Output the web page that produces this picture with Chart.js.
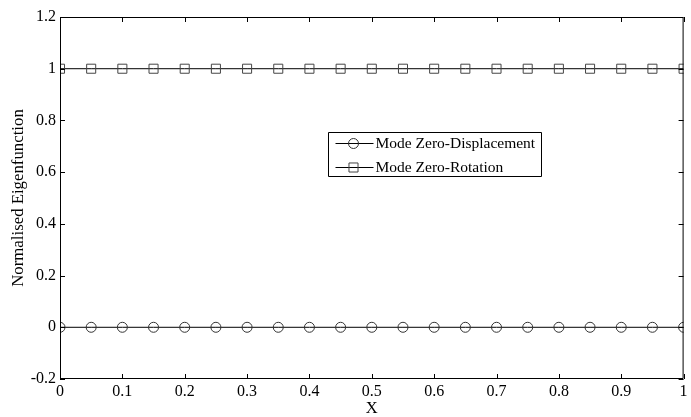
<!DOCTYPE html>
<html>
<head>
<meta charset="utf-8">
<script src="https://cdn.jsdelivr.net/npm/chart.js@4/dist/chart.umd.min.js"></script>
<style>
html,body{margin:0;padding:0;background:#fff;}
canvas{display:block;}
</style>
</head>
<body>
<canvas id="c" width="691" height="417"></canvas>
<script>
const xValues = [0,0.05,0.1,0.15,0.2,0.25,0.3,0.35,0.4,0.45,0.5,0.55,0.6,0.65,0.7,0.75,0.8,0.85,0.9,0.95,1];
const zeroDisplacement = [0,0,0,0,0,0,0,0,0,0,0,0,0,0,0,0,0,0,0,0,0];
const zeroRotation = [1,1,1,1,1,1,1,1,1,1,1,1,1,1,1,1,1,1,1,1,1];
const seriesLabels = ['Mode Zero-Displacement','Mode Zero-Rotation'];
const xTicks = [0,0.1,0.2,0.3,0.4,0.5,0.6,0.7,0.8,0.9,1];
const yTicks = [-0.2,0,0.2,0.4,0.6,0.8,1,1.2];
const xTitle = 'X';
const yTitle = 'Normalised Eigenfunction';

const FONT = "'Liberation Serif','Times New Roman',serif";

const framePlugin = {
  id: 'frame',
  afterDatasetsDraw(chart) {
    const {ctx, chartArea: a, scales: {x, y}} = chart;
    ctx.save();
    ctx.strokeStyle = '#000';
    ctx.lineWidth = 1;
    ctx.beginPath();
    ctx.rect(a.left + 0.5, a.top + 0.5, a.right - a.left - 1, a.bottom - a.top - 1);
    const L = 5;
    xTicks.forEach(v => {
      const px = Math.round(x.getPixelForValue(v)) + 0.5;
      ctx.moveTo(px, a.bottom); ctx.lineTo(px, a.bottom - L);
      ctx.moveTo(px, a.top); ctx.lineTo(px, a.top + L);
    });
    yTicks.forEach(v => {
      const py = Math.round(y.getPixelForValue(v)) + 0.5;
      ctx.moveTo(a.left, py); ctx.lineTo(a.left + L, py);
      ctx.moveTo(a.right, py); ctx.lineTo(a.right - L, py);
    });
    ctx.stroke();

    // legend
    const bx = 328.5, by = 132.5, bw = 213, bh = 44;
    ctx.fillStyle = '#fff';
    ctx.fillRect(bx, by, bw, bh);
    ctx.strokeStyle = '#000';
    ctx.beginPath();
    ctx.rect(bx, by, bw, bh);
    ctx.stroke();
    ctx.font = '15.5px ' + FONT;
    ctx.textBaseline = 'middle';
    ctx.textAlign = 'left';
    chart.data.datasets.forEach((ds, i) => {
      const cy = Math.round(by + 10 + i * 24) + 0.5;
      ctx.strokeStyle = '#000';
      ctx.lineWidth = 1;
      ctx.beginPath();
      ctx.moveTo(bx + 7, cy); ctx.lineTo(bx + 45, cy);
      ctx.stroke();
      ctx.strokeStyle = ds.pointBorderColor;
      ctx.fillStyle = 'rgba(0,0,0,0)';
      Chart.helpers.drawPoint(ctx, {pointStyle: ds.pointStyle, radius: ds.pointRadius, rotation: 0, borderWidth: 1}, bx + 25, cy);
      ctx.fillStyle = '#000';
      ctx.fillText(ds.label, bx + 47, cy);
    });
    ctx.restore();
  }
};

new Chart(document.getElementById('c'), {
  type: 'line',
  data: {
    datasets: [
      {
        label: seriesLabels[0],
        data: xValues.map((v, i) => ({x: v, y: zeroDisplacement[i]})),
        borderColor: '#000', borderWidth: 1,
        pointStyle: 'circle', pointRadius: 5,
        pointBorderColor: '#333', pointBackgroundColor: 'rgba(0,0,0,0)', pointBorderWidth: 1,
        fill: false, tension: 0
      },
      {
        label: seriesLabels[1],
        data: xValues.map((v, i) => ({x: v, y: zeroRotation[i]})),
        borderColor: '#000', borderWidth: 1,
        pointStyle: 'rect', pointRadius: 6.4,
        pointBorderColor: '#444', pointBackgroundColor: 'rgba(0,0,0,0)', pointBorderWidth: 1,
        fill: false, tension: 0
      }
    ]
  },
  options: {
    responsive: false,
    animation: false,
    devicePixelRatio: 1,
    layout: {padding: {top: 17, right: 4, left: 0, bottom: 0}},
    plugins: {legend: {display: false}, tooltip: {enabled: false}},
    elements: {point: {hoverRadius: 5}},
    scales: {
      x: {
        type: 'linear', min: 0, max: 1,
        afterBuildTicks(s) { s.ticks = xTicks.map(v => ({value: v})); },
        afterFit(s) { s.height = 38; },
        grid: {display: false, drawTicks: false},
        border: {display: false},
        ticks: {
          color: '#000', padding: 3, maxRotation: 0, autoSkip: false,
          font: {family: FONT, size: 16},
          callback: v => String(Math.round(v * 10) / 10)
        },
        title: {display: true, text: xTitle, color: '#000', font: {family: FONT, size: 16.5, lineHeight: 1}, padding: 0}
      },
      y: {
        type: 'linear', min: -0.2, max: 1.2,
        afterBuildTicks(s) { s.ticks = yTicks.map(v => ({value: v})); },
        afterFit(s) { s.width = 60; },
        grid: {display: false, drawTicks: false},
        border: {display: false},
        ticks: {
          color: '#000', padding: 4, autoSkip: false,
          font: {family: FONT, size: 16},
          callback: v => String(Math.round(v * 10) / 10)
        },
        title: {display: true, text: yTitle, color: '#000', font: {family: FONT, size: 16.8, lineHeight: 1}, padding: {top: 10, bottom: 0}}
      }
    }
  },
  plugins: [framePlugin]
});
</script>
</body>
</html>
